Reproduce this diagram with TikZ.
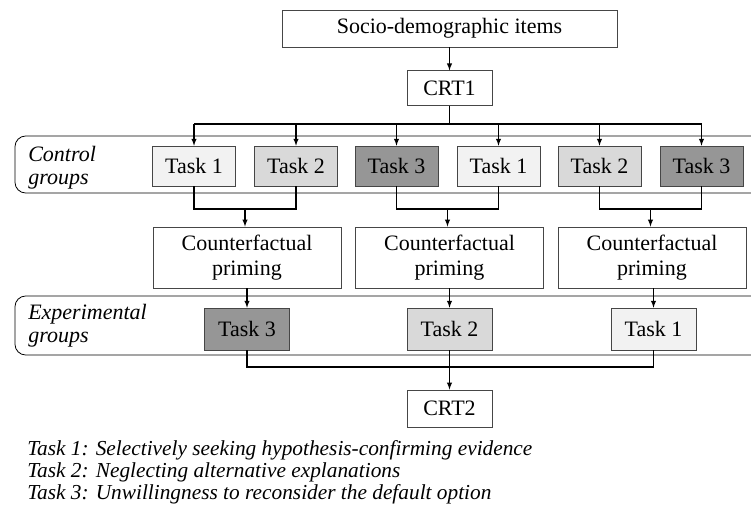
\documentclass[tikz,border=0pt]{standalone}
\usepackage{fontspec}
\setmainfont{Liberation Serif}
\usepackage{tikz}
\usetikzlibrary{arrows,positioning}
\definecolor{gray1}{RGB}{242,242,242}
\definecolor{gray2}{RGB}{217,217,217}
\definecolor{gray3}{RGB}{150,150,150}
\definecolor{edge1}{RGB}{70,70,70}

\tikzset{
  box/.style={draw=edge1,fill=white,inner sep=0pt,align=center,font=\fontsize{16.5}{19}\selectfont},
  taskA/.style={box,fill=gray1,minimum width=62pt,minimum height=30pt},
  taskB/.style={box,fill=gray2,minimum width=62pt,minimum height=30pt},
  taskC/.style={box,fill=gray3,minimum width=62pt,minimum height=30pt},
  grouplabel/.style={anchor=west,align=left,inner sep=0pt,font=\fontsize{16.5}{17}\selectfont\itshape},
  legend/.style={anchor=west,inner sep=0pt,font=\fontsize{16}{16}\selectfont\itshape},
  link/.style={line width=0.8pt},
  arr/.style={line width=0.8pt,-latex}
}

\begin{document}
\begin{tikzpicture}[x=0.75pt,y=-0.75pt]
\useasboundingbox (0,0) rectangle (751,510);

\def\ya{166}
\def\yb{257.5}
\def\yc{329}

% group frames
\draw[line width=0.6pt,rounded corners=8pt] (760,136) -| (15,193) -- (760,193);
\draw[line width=0.6pt,rounded corners=8pt] (760,296) -| (15,355) -- (760,355);
\node[grouplabel] (ctrl) at (28,168) {Control\\groups};
\node[grouplabel] (expg) at (28,326) {Experimental\\groups};

\node[box,minimum width=251pt,minimum height=28pt] (socio) at (449.5,28.5) {Socio-demographic items};
\node[box,minimum width=64pt,minimum height=26pt] (crt1) at (449.5,88) {CRT1};

% control tasks
\node[taskA] (t1) at (194,\ya) {Task 1};
\node[taskB] (t2) at (296,\ya) {Task 2};
\node[taskC] (t3) at (396.5,\ya) {Task 3};
\node[taskA] (t4) at (498.5,\ya) {Task 1};
\node[taskB] (t5) at (599.5,\ya) {Task 2};
\node[taskC] (t6) at (701.5,\ya) {Task 3};

% priming
\node[box,minimum width=141pt,minimum height=46pt] (cf1) at (247,\yb) {Counterfactual\\priming};
\node[box,minimum width=141pt,minimum height=46pt] (cf2) at (449.5,\yb) {Counterfactual\\priming};
\node[box,minimum width=141pt,minimum height=46pt] (cf3) at (652,\yb) {Counterfactual\\priming};

% experimental tasks
\node[taskC,minimum width=64pt,minimum height=31.5pt] (e1) at (247,\yc) {Task 3};
\node[taskB,minimum width=64pt,minimum height=31.5pt] (e2) at (449.5,\yc) {Task 2};
\node[taskA,minimum width=64pt,minimum height=31.5pt] (e3) at (653.5,\yc) {Task 1};

\node[box,minimum width=64pt,minimum height=28pt] (crt2) at (449.5,408.5) {CRT2};

\coordinate (top) at (449.5,124);
\coordinate (m1) at (245,209);
\coordinate (m2) at (447.5,209);
\coordinate (m3) at (650.5,209);
\coordinate (bot) at (449.5,367);

\draw[arr] (socio) -- (crt1);
\draw[link] (crt1) -- (top);
\draw[link] (t1.north |- top) -- (t6.north |- top);
\foreach \t in {t1,t2,t3,t4,t5,t6}
  \draw[arr] (\t.north |- top) -- (\t);

\draw[link] (t1) |- (m1) -| (t2);
\draw[link] (t3) |- (m2) -| (t4);
\draw[link] (t5) |- (m3) -| (t6);
\draw[arr] (m1) -- (m1 |- cf1.north);
\draw[arr] (m2) -- (m2 |- cf2.north);
\draw[arr] (m3) -- (m3 |- cf3.north);

\draw[arr] (cf1) -- (e1);
\draw[arr] (cf2) -- (e2);
\draw[arr] (cf3.south -| e3) -- (e3);

\draw[link] (e1) |- (bot) -| (e3);
\draw[link] (e2) -- (bot);
\draw[arr] (bot) -- (crt2);

% legend
\node[legend] (leg1) at (27,450) {Task 1: Selectively seeking hypothesis-confirming evidence};
\node[legend] (leg2) at (27,472) {Task 2: Neglecting alternative explanations};
\node[legend] (leg3) at (27,494) {Task 3: Unwillingness to reconsider the default option};
\end{tikzpicture}
\end{document}
